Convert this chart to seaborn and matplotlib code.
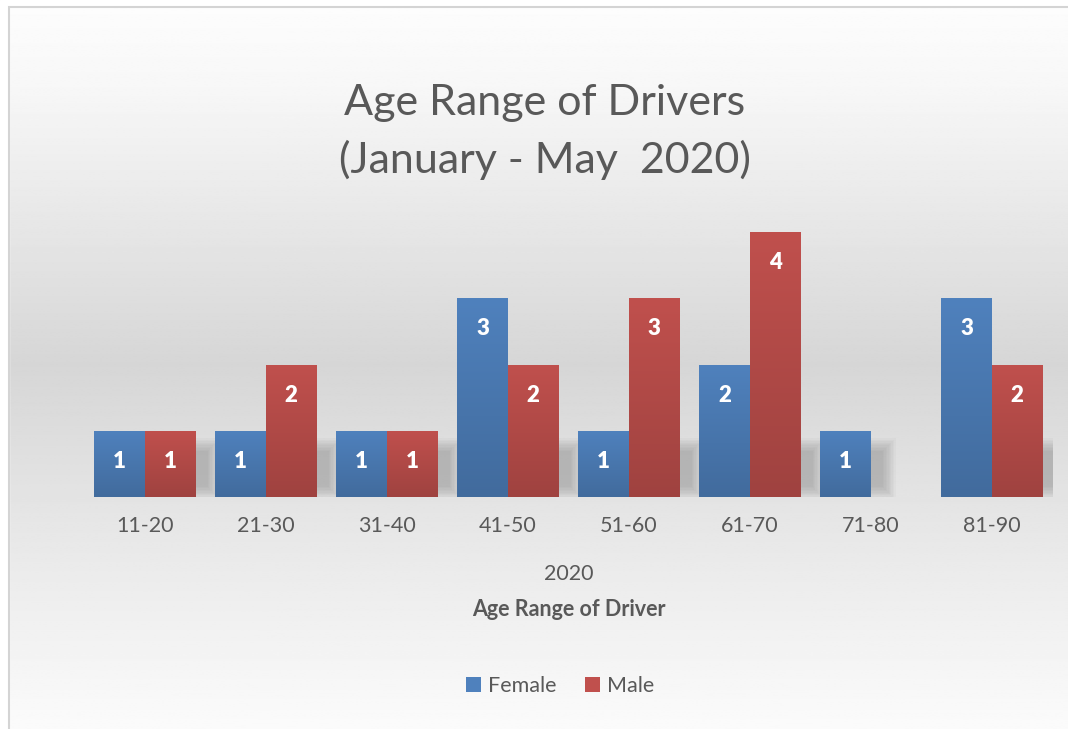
import numpy as np
import pandas as pd
import matplotlib
matplotlib.use("Agg")
import matplotlib.pyplot as plt
import seaborn as sns
from matplotlib.colors import LinearSegmentedColormap, to_rgb
from matplotlib.patches import Rectangle, Patch

# Data
age_ranges = ["11-20", "21-30", "31-40", "41-50", "51-60", "61-70", "71-80", "81-90"]
female = [1, 1, 1, 3, 1, 2, 1, 3]
male = [1, 2, 1, 2, 3, 4, 0, 2]
genders = ["Female", "Male"]
colors = ["#4F81BD", "#C0504D"]

df = pd.DataFrame({
    "Age Range": age_ranges * 2,
    "Count": female + male,
    "Gender": ["Female"] * len(female) + ["Male"] * len(male),
})

sns.set_theme(style="white")
plt.rcParams["font.family"] = ["Lato", "DejaVu Sans"]
text_col = "#595959"

W, H = 1068, 729
fig = plt.figure(figsize=(W / 100, H / 100), dpi=100)

# grey background gradient (light at top and bottom, darker in the middle)
bg = fig.add_axes([0, 0, 1, 1], zorder=0)
pos = np.linspace(0, 1, 400)
shade = np.interp(pos, [0, 0.12, 0.5, 0.85, 1.0], [253, 247, 214, 240, 251]) / 255
bg.imshow(np.repeat(shade[:, None], 2, axis=1), cmap="gray", vmin=0, vmax=1,
          extent=[0, 1, 0, 1], aspect="auto")
bg.add_patch(Rectangle((0, 0), 9 / W, 1, color="white", zorder=2))
bg.add_patch(Rectangle((0, 1 - 7 / H), 1, 7 / H, color="white", zorder=2))
bg.add_patch(Rectangle((9 / W, -0.05), 1.0, 1.05 - 7 / H,
                       fill=False, edgecolor="#d4d4d4", lw=1.5, zorder=3))
bg.set_xlim(0, 1)
bg.set_ylim(0, 1)
bg.axis("off")

ax = fig.add_axes([84.5 / W, 232 / H, 968 / W, 265 / H], zorder=1)
ax.patch.set_alpha(0)
sns.barplot(data=df, x="Age Range", y="Count", hue="Gender", palette=colors,
            width=0.835, gap=0, saturation=1, legend=False, linewidth=0, ax=ax)

px_x = 1 / 121.0   # data units per pixel along x
px_y = 1 / 66.25   # data units per pixel along y

bars = [p for p in ax.patches if p.get_height() and not np.isnan(p.get_height())]

# soft, short shadows behind the lower part of the bars
for p in bars:
    x0, w, h = p.get_x(), p.get_width(), p.get_height()
    for k in range(10):
        e = k * 1.4
        ax.add_patch(Rectangle((x0 + (12 - e) * px_x, (10 - e) * px_y),
                               w + 2 * e * px_x, (36 + 2 * e) * px_y,
                               facecolor="black", edgecolor="none", alpha=0.018, zorder=0.5))

# vertical gradient on each bar
for p in bars:
    h = p.get_height()
    x0 = p.get_x()
    w = p.get_width()
    top = np.array(to_rgb(p.get_facecolor()))
    bottom = top * 0.83
    cmap = LinearSegmentedColormap.from_list("g", [bottom, top])
    grad = np.linspace(1, 0, 100)[:, None]
    im = ax.imshow(grad, cmap=cmap, vmin=0, vmax=1, extent=[x0, x0 + w, 0, h],
                   aspect="auto", zorder=p.get_zorder() + 0.1)
    im.set_clip_path(p)
    ax.annotate(str(int(h)), (x0 + w / 2, h), xytext=(0, -22), textcoords="offset points",
                ha="center", va="center", color="white", fontweight="heavy", fontsize=16,
                zorder=5)

ax.set_xlim(-0.5, len(age_ranges) - 0.5)
ax.set_ylim(0, 4)
ax.set_xlabel("")
ax.set_ylabel("")
ax.set_yticks([])
ax.tick_params(axis="x", length=0, pad=14, labelsize=15.5, labelcolor=text_col)
for s in ax.spines.values():
    s.set_visible(False)

cx = 568.5 / W
fig.text(545 / W, 1 - 103 / H, "Age Range of Drivers", fontsize=31, color=text_col,
         ha="center", va="center")
fig.text(545 / W, 1 - 160 / H, "(January - May  2020)", fontsize=31, color=text_col,
         ha="center", va="center")
fig.text(cx, 1 - 574 / H, "2020", fontsize=15.5, color=text_col, ha="center", va="center")
fig.text(cx, 1 - 609 / H, "Age Range of Driver", fontsize=15.5, color=text_col,
         fontweight="bold", ha="center", va="center")

handles = [Patch(facecolor=c, edgecolor="none") for c in colors]
leg = fig.legend(handles, genders, loc="center", bbox_to_anchor=(560 / W, 1 - 686 / H),
                 ncol=2, frameon=False, handlelength=0.7, handleheight=0.7,
                 handletextpad=0.35, columnspacing=1.3, fontsize=15.5)
for t in leg.get_texts():
    t.set_color(text_col)

fig.savefig("out.png", dpi=100)
